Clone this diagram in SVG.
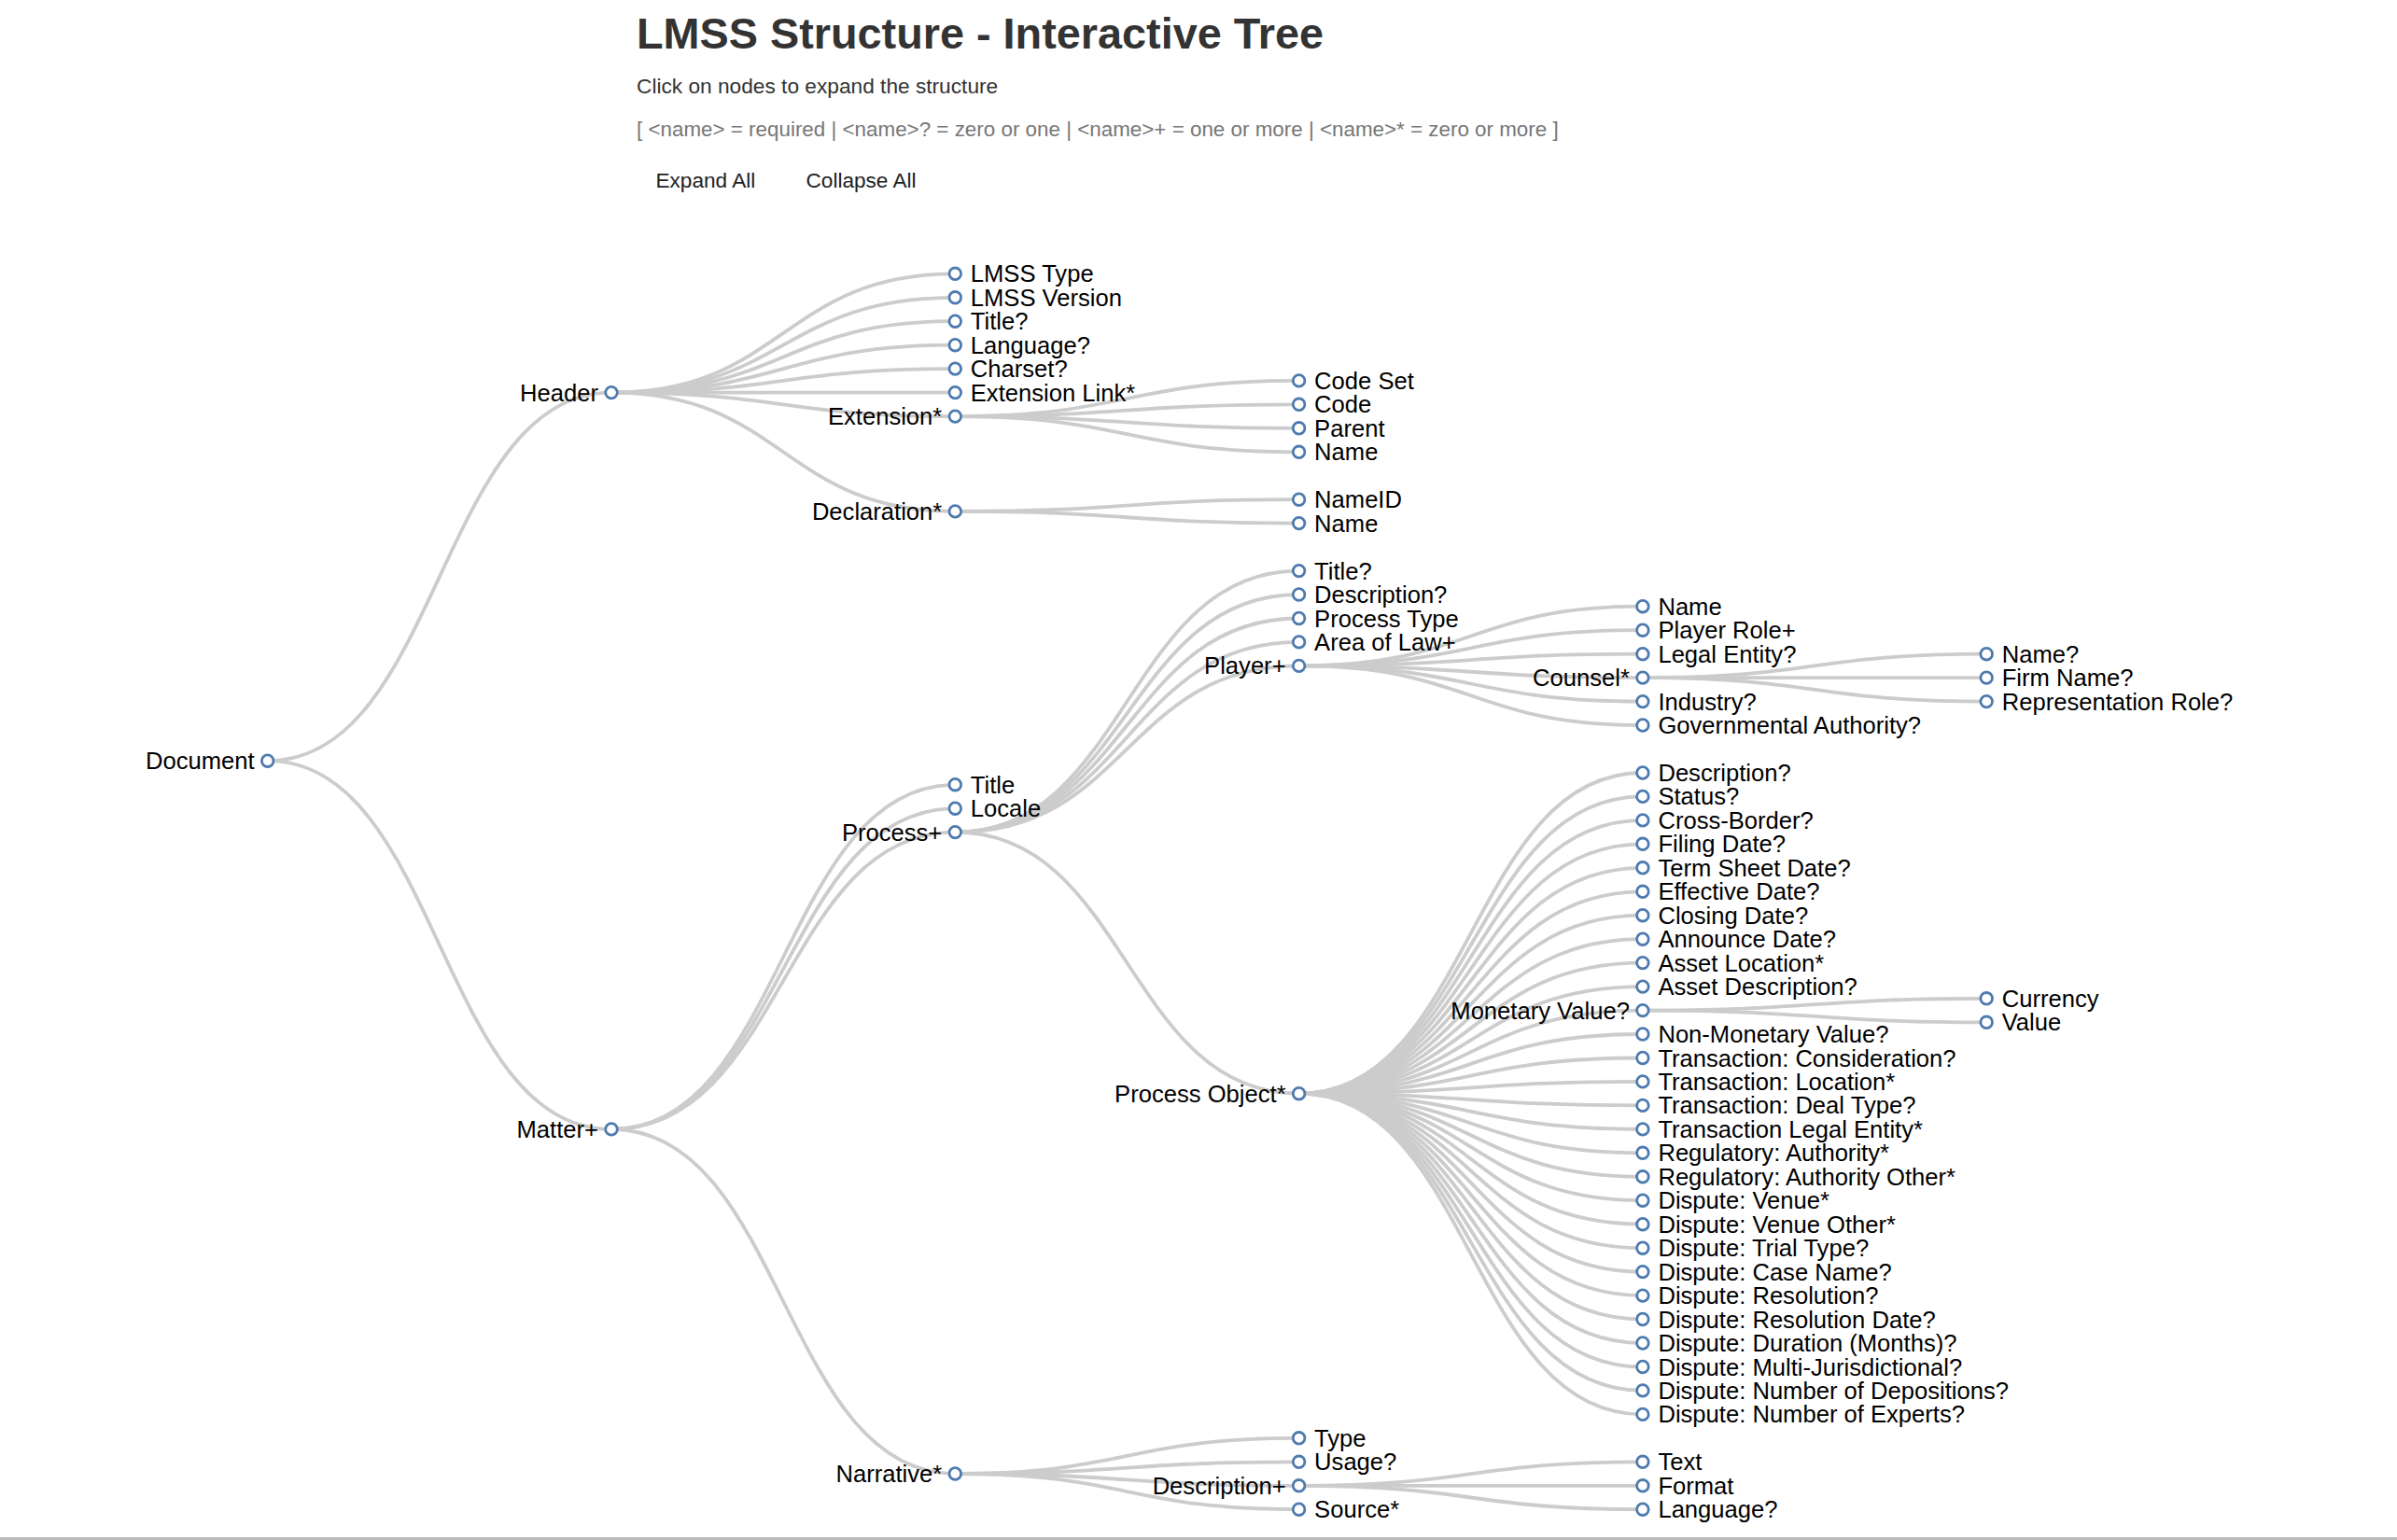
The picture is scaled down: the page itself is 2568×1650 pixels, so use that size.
<svg xmlns="http://www.w3.org/2000/svg" width="2568" height="1650" viewBox="0 0 2568 1650">
<style>
.link{fill:none;stroke:#ccc;stroke-width:3.8}
.node circle{fill:#fff;stroke:#4e7aae;stroke-width:2.8}
.node text{font-family:"Liberation Sans",Arial,Helvetica,sans-serif;font-size:25.6px;fill:#000}
.node text.r{text-anchor:start}
.node text.p{text-anchor:end}
.hd{font-family:"Liberation Sans",Arial,Helvetica,sans-serif}
</style>
<rect x="0" y="0" width="2568" height="1650" fill="#fff"/>
<g id="header-texts">
<text class="hd" x="682" y="52" font-size="46.8" font-weight="bold" fill="#333">LMSS Structure - Interactive Tree</text>
<text class="hd" x="682" y="99.5" font-size="22.7" fill="#333">Click on nodes to expand the structure</text>
<text class="hd" x="682" y="146" font-size="22.4" fill="#777">[ &lt;name&gt; = required | &lt;name&gt;? = zero or one | &lt;name&gt;+ = one or more | &lt;name&gt;* = zero or more ]</text>
<text class="hd" x="702.5" y="200.5" font-size="22.6" fill="#222">Expand All</text>
<text class="hd" x="863.5" y="200.5" font-size="22.6" fill="#222">Collapse All</text>
</g>
<g id="links">
<path class="link" d="M286.7,815.2C470.9,815.2 470.9,420.6 655,420.6"/>
<path class="link" d="M286.7,815.2C470.9,815.2 470.9,1209.9 655,1209.9"/>
<path class="link" d="M655,420.6C839.2,420.6 839.2,293.3 1023.3,293.3"/>
<path class="link" d="M655,420.6C839.2,420.6 839.2,318.8 1023.3,318.8"/>
<path class="link" d="M655,420.6C839.2,420.6 839.2,344.2 1023.3,344.2"/>
<path class="link" d="M655,420.6C839.2,420.6 839.2,369.7 1023.3,369.7"/>
<path class="link" d="M655,420.6C839.2,420.6 839.2,395.1 1023.3,395.1"/>
<path class="link" d="M655,420.6C839.2,420.6 839.2,420.6 1023.3,420.6"/>
<path class="link" d="M655,420.6C839.2,420.6 839.2,446.1 1023.3,446.1"/>
<path class="link" d="M655,420.6C839.2,420.6 839.2,547.9 1023.3,547.9"/>
<path class="link" d="M1023.3,446.1C1207.5,446.1 1207.5,407.9 1391.6,407.9"/>
<path class="link" d="M1023.3,446.1C1207.5,446.1 1207.5,433.3 1391.6,433.3"/>
<path class="link" d="M1023.3,446.1C1207.5,446.1 1207.5,458.8 1391.6,458.8"/>
<path class="link" d="M1023.3,446.1C1207.5,446.1 1207.5,484.3 1391.6,484.3"/>
<path class="link" d="M1023.3,547.9C1207.5,547.9 1207.5,535.2 1391.6,535.2"/>
<path class="link" d="M1023.3,547.9C1207.5,547.9 1207.5,560.6 1391.6,560.6"/>
<path class="link" d="M655,1209.9C839.2,1209.9 839.2,840.7 1023.3,840.7"/>
<path class="link" d="M655,1209.9C839.2,1209.9 839.2,866.2 1023.3,866.2"/>
<path class="link" d="M655,1209.9C839.2,1209.9 839.2,891.6 1023.3,891.6"/>
<path class="link" d="M655,1209.9C839.2,1209.9 839.2,1579 1023.3,1579"/>
<path class="link" d="M1023.3,891.6C1207.5,891.6 1207.5,611.6 1391.6,611.6"/>
<path class="link" d="M1023.3,891.6C1207.5,891.6 1207.5,637 1391.6,637"/>
<path class="link" d="M1023.3,891.6C1207.5,891.6 1207.5,662.5 1391.6,662.5"/>
<path class="link" d="M1023.3,891.6C1207.5,891.6 1207.5,687.9 1391.6,687.9"/>
<path class="link" d="M1023.3,891.6C1207.5,891.6 1207.5,713.4 1391.6,713.4"/>
<path class="link" d="M1023.3,891.6C1207.5,891.6 1207.5,1171.7 1391.6,1171.7"/>
<path class="link" d="M1391.6,713.4C1575.8,713.4 1575.8,649.7 1759.9,649.7"/>
<path class="link" d="M1391.6,713.4C1575.8,713.4 1575.8,675.2 1759.9,675.2"/>
<path class="link" d="M1391.6,713.4C1575.8,713.4 1575.8,700.7 1759.9,700.7"/>
<path class="link" d="M1391.6,713.4C1575.8,713.4 1575.8,726.1 1759.9,726.1"/>
<path class="link" d="M1391.6,713.4C1575.8,713.4 1575.8,751.6 1759.9,751.6"/>
<path class="link" d="M1391.6,713.4C1575.8,713.4 1575.8,777 1759.9,777"/>
<path class="link" d="M1759.9,726.1C1944.1,726.1 1944.1,700.7 2128.2,700.7"/>
<path class="link" d="M1759.9,726.1C1944.1,726.1 1944.1,726.1 2128.2,726.1"/>
<path class="link" d="M1759.9,726.1C1944.1,726.1 1944.1,751.6 2128.2,751.6"/>
<path class="link" d="M1391.6,1171.7C1575.8,1171.7 1575.8,828 1759.9,828"/>
<path class="link" d="M1391.6,1171.7C1575.8,1171.7 1575.8,853.4 1759.9,853.4"/>
<path class="link" d="M1391.6,1171.7C1575.8,1171.7 1575.8,878.9 1759.9,878.9"/>
<path class="link" d="M1391.6,1171.7C1575.8,1171.7 1575.8,904.3 1759.9,904.3"/>
<path class="link" d="M1391.6,1171.7C1575.8,1171.7 1575.8,929.8 1759.9,929.8"/>
<path class="link" d="M1391.6,1171.7C1575.8,1171.7 1575.8,955.3 1759.9,955.3"/>
<path class="link" d="M1391.6,1171.7C1575.8,1171.7 1575.8,980.7 1759.9,980.7"/>
<path class="link" d="M1391.6,1171.7C1575.8,1171.7 1575.8,1006.2 1759.9,1006.2"/>
<path class="link" d="M1391.6,1171.7C1575.8,1171.7 1575.8,1031.6 1759.9,1031.6"/>
<path class="link" d="M1391.6,1171.7C1575.8,1171.7 1575.8,1057.1 1759.9,1057.1"/>
<path class="link" d="M1391.6,1171.7C1575.8,1171.7 1575.8,1082.6 1759.9,1082.6"/>
<path class="link" d="M1391.6,1171.7C1575.8,1171.7 1575.8,1108 1759.9,1108"/>
<path class="link" d="M1391.6,1171.7C1575.8,1171.7 1575.8,1133.5 1759.9,1133.5"/>
<path class="link" d="M1391.6,1171.7C1575.8,1171.7 1575.8,1158.9 1759.9,1158.9"/>
<path class="link" d="M1391.6,1171.7C1575.8,1171.7 1575.8,1184.4 1759.9,1184.4"/>
<path class="link" d="M1391.6,1171.7C1575.8,1171.7 1575.8,1209.9 1759.9,1209.9"/>
<path class="link" d="M1391.6,1171.7C1575.8,1171.7 1575.8,1235.3 1759.9,1235.3"/>
<path class="link" d="M1391.6,1171.7C1575.8,1171.7 1575.8,1260.8 1759.9,1260.8"/>
<path class="link" d="M1391.6,1171.7C1575.8,1171.7 1575.8,1286.2 1759.9,1286.2"/>
<path class="link" d="M1391.6,1171.7C1575.8,1171.7 1575.8,1311.7 1759.9,1311.7"/>
<path class="link" d="M1391.6,1171.7C1575.8,1171.7 1575.8,1337.2 1759.9,1337.2"/>
<path class="link" d="M1391.6,1171.7C1575.8,1171.7 1575.8,1362.6 1759.9,1362.6"/>
<path class="link" d="M1391.6,1171.7C1575.8,1171.7 1575.8,1388.1 1759.9,1388.1"/>
<path class="link" d="M1391.6,1171.7C1575.8,1171.7 1575.8,1413.5 1759.9,1413.5"/>
<path class="link" d="M1391.6,1171.7C1575.8,1171.7 1575.8,1439 1759.9,1439"/>
<path class="link" d="M1391.6,1171.7C1575.8,1171.7 1575.8,1464.5 1759.9,1464.5"/>
<path class="link" d="M1391.6,1171.7C1575.8,1171.7 1575.8,1489.9 1759.9,1489.9"/>
<path class="link" d="M1391.6,1171.7C1575.8,1171.7 1575.8,1515.4 1759.9,1515.4"/>
<path class="link" d="M1759.9,1082.6C1944.1,1082.6 1944.1,1069.8 2128.2,1069.8"/>
<path class="link" d="M1759.9,1082.6C1944.1,1082.6 1944.1,1095.3 2128.2,1095.3"/>
<path class="link" d="M1023.3,1579C1207.5,1579 1207.5,1540.8 1391.6,1540.8"/>
<path class="link" d="M1023.3,1579C1207.5,1579 1207.5,1566.3 1391.6,1566.3"/>
<path class="link" d="M1023.3,1579C1207.5,1579 1207.5,1591.8 1391.6,1591.8"/>
<path class="link" d="M1023.3,1579C1207.5,1579 1207.5,1617.2 1391.6,1617.2"/>
<path class="link" d="M1391.6,1591.8C1575.8,1591.8 1575.8,1566.3 1759.9,1566.3"/>
<path class="link" d="M1391.6,1591.8C1575.8,1591.8 1575.8,1591.8 1759.9,1591.8"/>
<path class="link" d="M1391.6,1591.8C1575.8,1591.8 1575.8,1617.2 1759.9,1617.2"/>
</g>
<g id="n-document" class="node" transform="translate(286.7,815.2)"><circle r="6.3"/><text class="p" x="-14" y="9">Document</text></g>
<g id="n-header" class="node" transform="translate(655,420.6)"><circle r="6.3"/><text class="p" x="-14" y="9">Header</text></g>
<g id="n-lmss-type" class="node" transform="translate(1023.3,293.3)"><circle r="6.3"/><text class="r" x="16.5" y="9">LMSS Type</text></g>
<g id="n-lmss-version" class="node" transform="translate(1023.3,318.8)"><circle r="6.3"/><text class="r" x="16.5" y="9">LMSS Version</text></g>
<g id="n-header-title" class="node" transform="translate(1023.3,344.2)"><circle r="6.3"/><text class="r" x="16.5" y="9">Title?</text></g>
<g id="n-header-language" class="node" transform="translate(1023.3,369.7)"><circle r="6.3"/><text class="r" x="16.5" y="9">Language?</text></g>
<g id="n-charset" class="node" transform="translate(1023.3,395.1)"><circle r="6.3"/><text class="r" x="16.5" y="9">Charset?</text></g>
<g id="n-extension-link" class="node" transform="translate(1023.3,420.6)"><circle r="6.3"/><text class="r" x="16.5" y="9">Extension Link*</text></g>
<g id="n-extension" class="node" transform="translate(1023.3,446.1)"><circle r="6.3"/><text class="p" x="-14" y="9">Extension*</text></g>
<g id="n-code-set" class="node" transform="translate(1391.6,407.9)"><circle r="6.3"/><text class="r" x="16.5" y="9">Code Set</text></g>
<g id="n-code" class="node" transform="translate(1391.6,433.3)"><circle r="6.3"/><text class="r" x="16.5" y="9">Code</text></g>
<g id="n-parent" class="node" transform="translate(1391.6,458.8)"><circle r="6.3"/><text class="r" x="16.5" y="9">Parent</text></g>
<g id="n-ext-name" class="node" transform="translate(1391.6,484.3)"><circle r="6.3"/><text class="r" x="16.5" y="9">Name</text></g>
<g id="n-declaration" class="node" transform="translate(1023.3,547.9)"><circle r="6.3"/><text class="p" x="-14" y="9">Declaration*</text></g>
<g id="n-nameid" class="node" transform="translate(1391.6,535.2)"><circle r="6.3"/><text class="r" x="16.5" y="9">NameID</text></g>
<g id="n-decl-name" class="node" transform="translate(1391.6,560.6)"><circle r="6.3"/><text class="r" x="16.5" y="9">Name</text></g>
<g id="n-matter" class="node" transform="translate(655,1209.9)"><circle r="6.3"/><text class="p" x="-14" y="9">Matter+</text></g>
<g id="n-matter-title" class="node" transform="translate(1023.3,840.7)"><circle r="6.3"/><text class="r" x="16.5" y="9">Title</text></g>
<g id="n-locale" class="node" transform="translate(1023.3,866.2)"><circle r="6.3"/><text class="r" x="16.5" y="9">Locale</text></g>
<g id="n-process" class="node" transform="translate(1023.3,891.6)"><circle r="6.3"/><text class="p" x="-14" y="9">Process+</text></g>
<g id="n-proc-title" class="node" transform="translate(1391.6,611.6)"><circle r="6.3"/><text class="r" x="16.5" y="9">Title?</text></g>
<g id="n-proc-description" class="node" transform="translate(1391.6,637)"><circle r="6.3"/><text class="r" x="16.5" y="9">Description?</text></g>
<g id="n-process-type" class="node" transform="translate(1391.6,662.5)"><circle r="6.3"/><text class="r" x="16.5" y="9">Process Type</text></g>
<g id="n-area-of-law" class="node" transform="translate(1391.6,687.9)"><circle r="6.3"/><text class="r" x="16.5" y="9">Area of Law+</text></g>
<g id="n-player" class="node" transform="translate(1391.6,713.4)"><circle r="6.3"/><text class="p" x="-14" y="9">Player+</text></g>
<g id="n-player-name" class="node" transform="translate(1759.9,649.7)"><circle r="6.3"/><text class="r" x="16.5" y="9">Name</text></g>
<g id="n-player-role" class="node" transform="translate(1759.9,675.2)"><circle r="6.3"/><text class="r" x="16.5" y="9">Player Role+</text></g>
<g id="n-legal-entity" class="node" transform="translate(1759.9,700.7)"><circle r="6.3"/><text class="r" x="16.5" y="9">Legal Entity?</text></g>
<g id="n-counsel" class="node" transform="translate(1759.9,726.1)"><circle r="6.3"/><text class="p" x="-14" y="9">Counsel*</text></g>
<g id="n-counsel-name" class="node" transform="translate(2128.2,700.7)"><circle r="6.3"/><text class="r" x="16.5" y="9">Name?</text></g>
<g id="n-firm-name" class="node" transform="translate(2128.2,726.1)"><circle r="6.3"/><text class="r" x="16.5" y="9">Firm Name?</text></g>
<g id="n-representation-role" class="node" transform="translate(2128.2,751.6)"><circle r="6.3"/><text class="r" x="16.5" y="9">Representation Role?</text></g>
<g id="n-industry" class="node" transform="translate(1759.9,751.6)"><circle r="6.3"/><text class="r" x="16.5" y="9">Industry?</text></g>
<g id="n-gov-authority" class="node" transform="translate(1759.9,777)"><circle r="6.3"/><text class="r" x="16.5" y="9">Governmental Authority?</text></g>
<g id="n-process-object" class="node" transform="translate(1391.6,1171.7)"><circle r="6.3"/><text class="p" x="-14" y="9">Process Object*</text></g>
<g id="n-po-description" class="node" transform="translate(1759.9,828)"><circle r="6.3"/><text class="r" x="16.5" y="9">Description?</text></g>
<g id="n-status" class="node" transform="translate(1759.9,853.4)"><circle r="6.3"/><text class="r" x="16.5" y="9">Status?</text></g>
<g id="n-cross-border" class="node" transform="translate(1759.9,878.9)"><circle r="6.3"/><text class="r" x="16.5" y="9">Cross-Border?</text></g>
<g id="n-filing-date" class="node" transform="translate(1759.9,904.3)"><circle r="6.3"/><text class="r" x="16.5" y="9">Filing Date?</text></g>
<g id="n-term-sheet-date" class="node" transform="translate(1759.9,929.8)"><circle r="6.3"/><text class="r" x="16.5" y="9">Term Sheet Date?</text></g>
<g id="n-effective-date" class="node" transform="translate(1759.9,955.3)"><circle r="6.3"/><text class="r" x="16.5" y="9">Effective Date?</text></g>
<g id="n-closing-date" class="node" transform="translate(1759.9,980.7)"><circle r="6.3"/><text class="r" x="16.5" y="9">Closing Date?</text></g>
<g id="n-announce-date" class="node" transform="translate(1759.9,1006.2)"><circle r="6.3"/><text class="r" x="16.5" y="9">Announce Date?</text></g>
<g id="n-asset-location" class="node" transform="translate(1759.9,1031.6)"><circle r="6.3"/><text class="r" x="16.5" y="9">Asset Location*</text></g>
<g id="n-asset-description" class="node" transform="translate(1759.9,1057.1)"><circle r="6.3"/><text class="r" x="16.5" y="9">Asset Description?</text></g>
<g id="n-monetary-value" class="node" transform="translate(1759.9,1082.6)"><circle r="6.3"/><text class="p" x="-14" y="9">Monetary Value?</text></g>
<g id="n-currency" class="node" transform="translate(2128.2,1069.8)"><circle r="6.3"/><text class="r" x="16.5" y="9">Currency</text></g>
<g id="n-value" class="node" transform="translate(2128.2,1095.3)"><circle r="6.3"/><text class="r" x="16.5" y="9">Value</text></g>
<g id="n-non-monetary-value" class="node" transform="translate(1759.9,1108)"><circle r="6.3"/><text class="r" x="16.5" y="9">Non-Monetary Value?</text></g>
<g id="n-tx-consideration" class="node" transform="translate(1759.9,1133.5)"><circle r="6.3"/><text class="r" x="16.5" y="9">Transaction: Consideration?</text></g>
<g id="n-tx-location" class="node" transform="translate(1759.9,1158.9)"><circle r="6.3"/><text class="r" x="16.5" y="9">Transaction: Location*</text></g>
<g id="n-tx-deal-type" class="node" transform="translate(1759.9,1184.4)"><circle r="6.3"/><text class="r" x="16.5" y="9">Transaction: Deal Type?</text></g>
<g id="n-tx-legal-entity" class="node" transform="translate(1759.9,1209.9)"><circle r="6.3"/><text class="r" x="16.5" y="9">Transaction Legal Entity*</text></g>
<g id="n-reg-authority" class="node" transform="translate(1759.9,1235.3)"><circle r="6.3"/><text class="r" x="16.5" y="9">Regulatory: Authority*</text></g>
<g id="n-reg-authority-other" class="node" transform="translate(1759.9,1260.8)"><circle r="6.3"/><text class="r" x="16.5" y="9">Regulatory: Authority Other*</text></g>
<g id="n-dis-venue" class="node" transform="translate(1759.9,1286.2)"><circle r="6.3"/><text class="r" x="16.5" y="9">Dispute: Venue*</text></g>
<g id="n-dis-venue-other" class="node" transform="translate(1759.9,1311.7)"><circle r="6.3"/><text class="r" x="16.5" y="9">Dispute: Venue Other*</text></g>
<g id="n-dis-trial-type" class="node" transform="translate(1759.9,1337.2)"><circle r="6.3"/><text class="r" x="16.5" y="9">Dispute: Trial Type?</text></g>
<g id="n-dis-case-name" class="node" transform="translate(1759.9,1362.6)"><circle r="6.3"/><text class="r" x="16.5" y="9">Dispute: Case Name?</text></g>
<g id="n-dis-resolution" class="node" transform="translate(1759.9,1388.1)"><circle r="6.3"/><text class="r" x="16.5" y="9">Dispute: Resolution?</text></g>
<g id="n-dis-resolution-date" class="node" transform="translate(1759.9,1413.5)"><circle r="6.3"/><text class="r" x="16.5" y="9">Dispute: Resolution Date?</text></g>
<g id="n-dis-duration" class="node" transform="translate(1759.9,1439)"><circle r="6.3"/><text class="r" x="16.5" y="9">Dispute: Duration (Months)?</text></g>
<g id="n-dis-multi" class="node" transform="translate(1759.9,1464.5)"><circle r="6.3"/><text class="r" x="16.5" y="9">Dispute: Multi-Jurisdictional?</text></g>
<g id="n-dis-depositions" class="node" transform="translate(1759.9,1489.9)"><circle r="6.3"/><text class="r" x="16.5" y="9">Dispute: Number of Depositions?</text></g>
<g id="n-dis-experts" class="node" transform="translate(1759.9,1515.4)"><circle r="6.3"/><text class="r" x="16.5" y="9">Dispute: Number of Experts?</text></g>
<g id="n-narrative" class="node" transform="translate(1023.3,1579)"><circle r="6.3"/><text class="p" x="-14" y="9">Narrative*</text></g>
<g id="n-nar-type" class="node" transform="translate(1391.6,1540.8)"><circle r="6.3"/><text class="r" x="16.5" y="9">Type</text></g>
<g id="n-nar-usage" class="node" transform="translate(1391.6,1566.3)"><circle r="6.3"/><text class="r" x="16.5" y="9">Usage?</text></g>
<g id="n-nar-description" class="node" transform="translate(1391.6,1591.8)"><circle r="6.3"/><text class="p" x="-14" y="9">Description+</text></g>
<g id="n-nar-source" class="node" transform="translate(1391.6,1617.2)"><circle r="6.3"/><text class="r" x="16.5" y="9">Source*</text></g>
<g id="n-text" class="node" transform="translate(1759.9,1566.3)"><circle r="6.3"/><text class="r" x="16.5" y="9">Text</text></g>
<g id="n-format" class="node" transform="translate(1759.9,1591.8)"><circle r="6.3"/><text class="r" x="16.5" y="9">Format</text></g>
<g id="n-desc-language" class="node" transform="translate(1759.9,1617.2)"><circle r="6.3"/><text class="r" x="16.5" y="9">Language?</text></g>
<rect id="bottom-edge" x="0" y="1647" width="2568" height="3" fill="#bbb"/>
</svg>
